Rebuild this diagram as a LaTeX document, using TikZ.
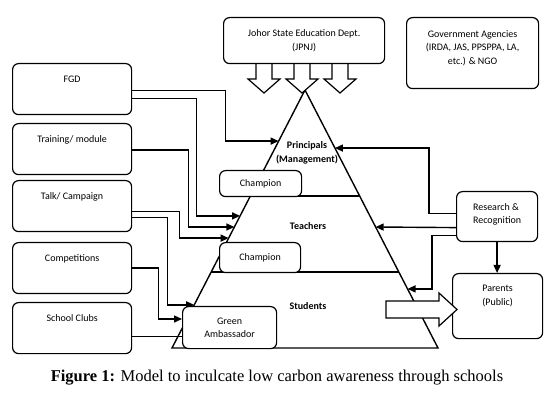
\documentclass[tikz,border=0pt]{standalone}
\usepackage{fontspec}
\setmainfont{Carlito}
\newfontfamily\capfont{Liberation Serif}
\usetikzlibrary{arrows.meta,calc}
\tikzset{
  rbox/.style={draw, line width=1.2pt, rounded corners=6pt, fill=white, anchor=north west,
    align=center, font=\fontsize{10}{13.5}\selectfont},
  sidebox/.style={rbox, minimum width=119pt, minimum height=51pt, text height=8pt, text depth=21pt},
  wire/.style={line width=1.4pt},
  arr/.style={wire, -{Triangle[length=8pt,width=7pt]}},
  band/.style={font=\bfseries\fontsize{10}{13.5}\selectfont, align=center},
  blockarrow/.style={draw, line width=1.2pt, fill=white}
}
\begin{document}
\begin{tikzpicture}[x=1pt, y=-1pt]
  \useasboundingbox (0,0) rectangle (560,406);
  % the pyramid and its bands
  \coordinate (apex) at (305,90);
  \coordinate (bl) at (172,348);
  \coordinate (br) at (438,348);
  \draw[wire] (apex) -- (bl) -- (br) -- cycle;
  \draw[wire] ($(apex)!0.411!(bl)$) -- ($(apex)!0.411!(br)$);
  \draw[wire] ($(apex)!0.705!(bl)$) -- ($(apex)!0.705!(br)$);
  \node[band] (principals) at (307,153) {Principals\\(Management)};
  \node[band] (teachers) at (308,226) {Teachers};
  \node[band] (students) at (308,306) {Students};
  % arrows from the state department
  \foreach \x in {264,302,340}
  {
    \draw[blockarrow] (\x-8,63) -- (\x-8,79) -- (\x-16,79) -- (\x,93) -- (\x+16,79) -- (\x+8,79) -- (\x+8,63);
  }
  % boxes at the top
  \node[rbox, minimum width=161pt, minimum height=46pt] (jpnj) at (223,17) {Johor State Education Dept.\\(JPNJ)};
  \node[rbox, minimum width=132pt, minimum height=71pt, text depth=12pt] (agencies) at (406,17)
    {Government Agencies\\(IRDA, JAS, PPSPPA, LA,\\etc.) \& NGO};
  % boxes on the left
  \node[sidebox] (fgd) at (12,63) {FGD};
  \node[sidebox] (training) at (12,123) {Training/ module};
  \node[sidebox] (talk) at (12,180) {Talk/ Campaign};
  \node[sidebox] (competitions) at (12,242) {Competitions};
  \node[sidebox] (clubs) at (12,302) {School Clubs};
  % boxes on the right
  \node[rbox, align=left, minimum width=81pt, minimum height=50pt, text depth=6.5pt] (research) at (456,191)
    {Research \&\\Recognition};
  \node[rbox, minimum width=90pt, minimum height=65pt, text depth=21.5pt] (parents) at (452,273)
    {Parents\\(Public)};
  % lines into the pyramid
  \draw[arr] ([yshift=-1.5pt]fgd.east) -- ++(93,0) |- ($(apex)!0.198!(bl)$);
  \draw[arr] ([yshift=-9.5pt]fgd.east) -- ++(64,0) |- ($(apex)!0.488!(bl)$);
  \draw[arr] ([yshift=-1pt]training.east) -- ++(56,0) |- ($(apex)!0.531!(bl)$);
  \draw[arr] ([yshift=-5.5pt]talk.east) -- ++(47,0) |- ($(apex)!0.574!(bl)$);
  \draw[arr] ([yshift=-11.5pt]talk.east) -- ++(35,0) |- ($(apex)!0.833!(bl)$);
  \draw[arr] (competitions.east) -- ++(26,0) |- ([yshift=8pt]182,327);
  \draw[wire] ([yshift=-8.5pt]clubs.east) -- ++(51,0);
  \draw[arr] ([yshift=3pt]research.west) -- ++(-27,0) |- ($(apex)!0.225!(br)$);
  \draw[arr] ([yshift=-11pt]research.west) -- ($(apex)!0.531!(br)$);
  \draw[arr] ([yshift=-19pt]research.west) -- ++(-24,0) |- ($(apex)!0.771!(br)$);
  \draw[arr] (research.south) -- (research.south |- parents.north);
  % champions and ambassadors
  \node[rbox, minimum width=82pt, minimum height=26pt] (champion1) at (219,170) {Champion};
  \node[rbox, minimum width=81pt, minimum height=30pt] (champion2) at (219,242) {Champion};
  \node[rbox, minimum width=94pt, minimum height=42pt] (green) at (182,306) {Green\\Ambassador};
  % students reach the parents
  \draw[blockarrow] (386,301) -- (439,301) -- (439,293) -- (457,309.5) -- (439,326) -- (439,318) -- (386,318) -- cycle;
  % caption
  \node[font=\capfont\fontsize{16.5}{19}\selectfont] (caption) at (277,378)
    {\textbf{Figure 1:} Model to inculcate low carbon awareness through schools};
\end{tikzpicture}
\end{document}
